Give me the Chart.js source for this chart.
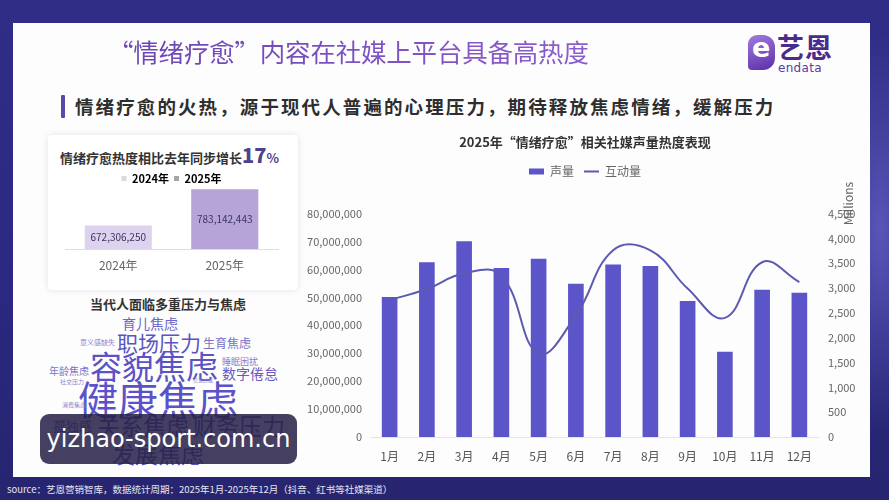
<!DOCTYPE html>
<html><head><meta charset="utf-8">
<script src="https://cdn.jsdelivr.net/npm/chart.js@4.4.1/dist/chart.umd.min.js"></script>
<style>
html,body{margin:0;padding:0;}
body{width:889px;height:500px;overflow:hidden;position:relative;font-family:"Noto Sans CJK SC","Noto Sans",sans-serif;
 background:radial-gradient(ellipse 60px 200px at 880px 230px,#5a56b8 0%,rgba(60,58,150,0) 100%),linear-gradient(180deg,#2f2d86 0%,#2a2880 60%,#27256f 100%);}
.abs{position:absolute;white-space:nowrap;}
#panel{position:absolute;left:13px;top:23px;width:857px;height:454px;background:#fdfdfe;}
#title{left:108px;top:34px;font-size:25.5px;line-height:34px;font-weight:400;letter-spacing:-0.2px;
 background:linear-gradient(90deg,#6a44b4,#8b5ccc);-webkit-background-clip:text;background-clip:text;color:transparent;}
#logoIcon{left:748px;top:35px;width:27px;height:35px;border-radius:9px 12px 12px 4px;background:linear-gradient(160deg,#a27ae0,#5b2fa8);}
#logoIcon span{position:absolute;left:4px;top:-3px;font-size:27px;font-weight:700;color:#fff;font-family:"DejaVu Sans",sans-serif;}
#logoCn{left:777px;top:30px;font-size:27px;font-weight:700;color:#4b2a8e;letter-spacing:1px;line-height:34px;}
#logoEn{left:778px;top:61px;font-size:12px;color:#5b3a9e;font-family:"DejaVu Sans",sans-serif;letter-spacing:0.3px;}
#subBar{left:61px;top:95px;width:4px;height:23px;background:#5a4aa8;border-radius:1px;}
#sub{left:75px;top:94px;font-size:18.5px;line-height:24px;font-weight:700;color:#2e2e2e;letter-spacing:2.1px;}
#card{left:48px;top:135px;width:250px;height:155px;background:#fff;border-radius:4px;box-shadow:0 0 6px rgba(80,70,120,0.15);}
#cardTitle{left:60px;top:143px;font-size:13px;line-height:24px;font-weight:700;color:#333;}
#cardTitle b{font-size:20px;color:#4d4190;}
#cardTitle i{font-style:normal;font-size:13px;color:#4d4190;font-weight:700;}
#cloudTitle{left:90px;top:295px;font-size:13px;font-weight:700;color:#333;line-height:18px;}
.w{position:absolute;white-space:nowrap;line-height:1;transform:translateY(-50%);}
#wm{left:40px;top:414px;width:257px;height:50px;border-radius:9px;background:rgba(38,33,72,0.86);}
#wmText{left:40px;top:414px;width:257px;height:50px;line-height:50px;text-align:center;font-size:24px;color:#fff;font-family:"DejaVu Sans",sans-serif;}
#foot{left:7px;top:482px;font-size:9.5px;color:#e6e6f5;line-height:14px;}
#mainWrap{left:305px;top:128px;width:560px;height:342px;}
#smallWrap{left:58px;top:168px;width:232px;height:108px;}
</style></head>
<body>
<div id="panel"></div>
<div class="abs" id="title">“情绪疗愈”内容在社媒上平台具备高热度</div>
<div class="abs" id="logoIcon"><span>e</span></div>
<div class="abs" id="logoCn">艺恩</div>
<div class="abs" id="logoEn">endata</div>
<div class="abs" id="subBar"></div>
<div class="abs" id="sub">情绪疗愈的火热，源于现代人普遍的心理压力，期待释放焦虑情绪，缓解压力</div>
<div class="abs" id="card"></div>
<div class="abs" id="cardTitle">情绪疗愈热度相比去年同步增长<b>17</b><i>%</i></div>
<div class="abs" id="smallWrap"><canvas id="small"></canvas></div>
<div class="abs" id="cloudTitle">当代人面临多重压力与焦虑</div>
<div id="cloud"></div>
<div class="abs" id="wm"></div>
<div class="abs" id="wmText">yizhao-sport.com.cn</div>
<div class="abs" id="mainWrap"><canvas id="main"></canvas></div>
<div class="abs" id="foot">source：艺恩营销智库，数据统计周期：2025年1月-2025年12月（抖音、红书等社媒渠道）</div>
<script>
// ---- data ----
const months = ['1月','2月','3月','4月','5月','6月','7月','8月','9月','10月','11月','12月'];
const volume = [50100000,62600000,70100000,60500000,63800000,54900000,61800000,61200000,48700000,30500000,52700000,51700000];
const interaction = [2760,2980,3300,3250,1680,2450,3760,3760,2990,2400,3520,3120];
const leftTicks = [0,10000000,20000000,30000000,40000000,50000000,60000000,70000000,80000000];
const rightTicks = [0,500,1000,1500,2000,2500,3000,3500,4000,4500];
const years = ['2024年','2025年'];
const yearTotals = [672306250,783142443];
const cloudWords = ['育儿焦虑','意义感缺失','职场压力','生育焦虑','容貌焦虑','睡眠困扰','数字倦怠','年龄焦虑','社交压力','信息过载','健康焦虑','消费焦虑','孤独感','关系焦虑','财务压力','发展焦虑'];

// word cloud layout (style only)
const cloudStyle = [
 [122,323,14,'#6b66c9'],[80,342,7,'#8a84c8'],[117,342,21,'#5a54c2'],[203,343,12,'#7a70c8'],
 [90,365,32,'#5b52c4'],[222,361,9,'#8a7ac8'],[222,373,14,'#6a5ac0'],[49,371,10,'#7a74c8'],
 [60,382,6,'#8a84c8'],[193,379,5,'#8a84c8'],[78,398,40,'#5b52c8'],[62,405,6,'#8a84c8'],
 [53,425,13,'#6a64b8'],[97,425,23,'#5a54c0'],[193,425,23,'#5a54c0'],[112,453,23,'#5a54c0']];
const cloud = document.getElementById('cloud');
cloudWords.forEach((t,i)=>{const s=cloudStyle[i];const d=document.createElement('div');d.className='w';d.textContent=t;
 d.style.left=s[0]+'px';d.style.top=s[1]+'px';d.style.fontSize=s[2]+'px';d.style.color=s[3];cloud.appendChild(d);});
document.body.appendChild(document.getElementById('wm'));
document.body.appendChild(document.getElementById('wmText'));

const fontFam = '"Noto Sans CJK SC","Noto Sans",sans-serif';
Chart.defaults.font.family = fontFam;

// ---- main chart ----
const legendGap = {id:'legendGap',beforeInit(chart){const f=chart.legend.fit;chart.legend.fit=function(){f.bind(chart.legend)();this.height+=26;};}};
const millions = {id:'millions',afterDraw(chart){const s=chart.scales.y1;const c=chart.ctx;c.save();
 c.translate(s.left+30,chart.chartArea.top-10);c.rotate(-Math.PI/2);c.font='12px '+fontFam;c.fillStyle='#666';
 c.textAlign='center';c.textBaseline='middle';c.fillText('Millions',0,0);c.restore();}};
new Chart(document.getElementById('main'),{
 data:{labels:months,datasets:[
  {type:'line',label:'互动量',data:interaction,yAxisID:'y1',borderColor:'#5d5bb0',borderWidth:2,tension:0.42,pointRadius:0,fill:false},
  {type:'bar',label:'声量',data:volume,yAxisID:'y',backgroundColor:'#5b55c9',barPercentage:0.42,categoryPercentage:1}
 ]},
 options:{responsive:true,maintainAspectRatio:false,animation:false,
  layout:{padding:{left:0,right:0,top:0,bottom:6}},
  plugins:{
   title:{display:true,text:'2025年“情绪疗愈”相关社媒声量热度表现',color:'#333',font:{size:13,weight:'bold'},padding:{top:6,bottom:6}},
   legend:{display:true,labels:{usePointStyle:true,pointStyleWidth:15,boxHeight:6,color:'#666',font:{size:12},padding:10,
    generateLabels(chart){const items=Chart.defaults.plugins.legend.labels.generateLabels(chart);
     items.forEach(it=>{const ds=chart.data.datasets[it.datasetIndex];
      if(ds.type==='line'){it.pointStyle='line';it.lineWidth=2;it.strokeStyle=ds.borderColor;}
      else{it.pointStyle='rect';it.lineWidth=0;it.fillStyle=ds.backgroundColor;it.strokeStyle=ds.backgroundColor;}});
     return items.sort((a,b)=>(chart.data.datasets[a.datasetIndex].type==='bar'?-1:1));}}},
   tooltip:{enabled:false}},
  scales:{
   x:{grid:{display:false,drawTicks:false},border:{display:true,color:'#e4e4ea'},ticks:{color:'#555',font:{size:12},padding:12},
    afterFit(s){s.height=27;}},
   y:{position:'left',min:0,max:80000000,grid:{display:false,drawTicks:false},border:{display:false},
    afterBuildTicks(s){s.ticks=leftTicks.map(v=>({value:v}));},
    afterFit(s){s.width=66;},
    ticks:{color:'#666',font:{size:11},padding:9,callback:v=>v.toLocaleString('en-US')}},
   y1:{position:'right',min:0,max:4500,grid:{display:false,drawTicks:false},border:{display:false},
    afterBuildTicks(s){s.ticks=rightTicks.map(v=>({value:v}));},
    afterFit(s){s.width=47;},
    ticks:{color:'#666',font:{size:11},padding:10,callback:v=>v.toLocaleString('en-US')}}
  }},
 plugins:[legendGap,millions]
});

// ---- small chart ----
const smallLegendFit = {id:'smallLegendFit',beforeInit(chart){const f=chart.legend.fit;chart.legend.fit=function(){f.bind(chart.legend)();this.height-=6;};}};
const barLabels = {id:'barLabels',afterDraw(chart){const c=chart.ctx;const ys=chart.scales.y;const xs=chart.scales.x;
 c.save();c.font='10px '+fontFam;c.fillStyle='#3d3560';c.textAlign='center';c.textBaseline='middle';
 yearTotals.forEach((v,i)=>{const x=xs.getPixelForValue(i);const top=ys.getPixelForValue(v);const base=ys.bottom;
  c.fillText(v.toLocaleString('en-US'),x,(top+base)/2);});c.restore();}};
new Chart(document.getElementById('small'),{
 type:'bar',
 data:{labels:years,datasets:[{label:'total',data:yearTotals,backgroundColor:['#ddd3ee','#b6a4d8'],barPercentage:0.63,categoryPercentage:1}]},
 options:{responsive:true,maintainAspectRatio:false,animation:false,
  layout:{padding:{left:7,right:12,top:0,bottom:3}},
  plugins:{tooltip:{enabled:false},
   legend:{display:true,labels:{boxWidth:5,boxHeight:5,color:'#333',font:{size:11,weight:'bold'},padding:5,
    generateLabels(){return years.map((y,i)=>({text:y,fillStyle:i?'#a6a6a6':'#dadada',strokeStyle:'transparent',lineWidth:0,hidden:false}));}}}},
  scales:{
   x:{grid:{display:false,drawTicks:false},border:{display:true,color:'#ddd'},ticks:{color:'#666',font:{size:12},padding:9},
    afterFit(s){s.height=24;}},
   y:{display:false,min:600000000,max:787000000}
  }},
 plugins:[smallLegendFit,barLabels]
});
</script>
</body></html>
